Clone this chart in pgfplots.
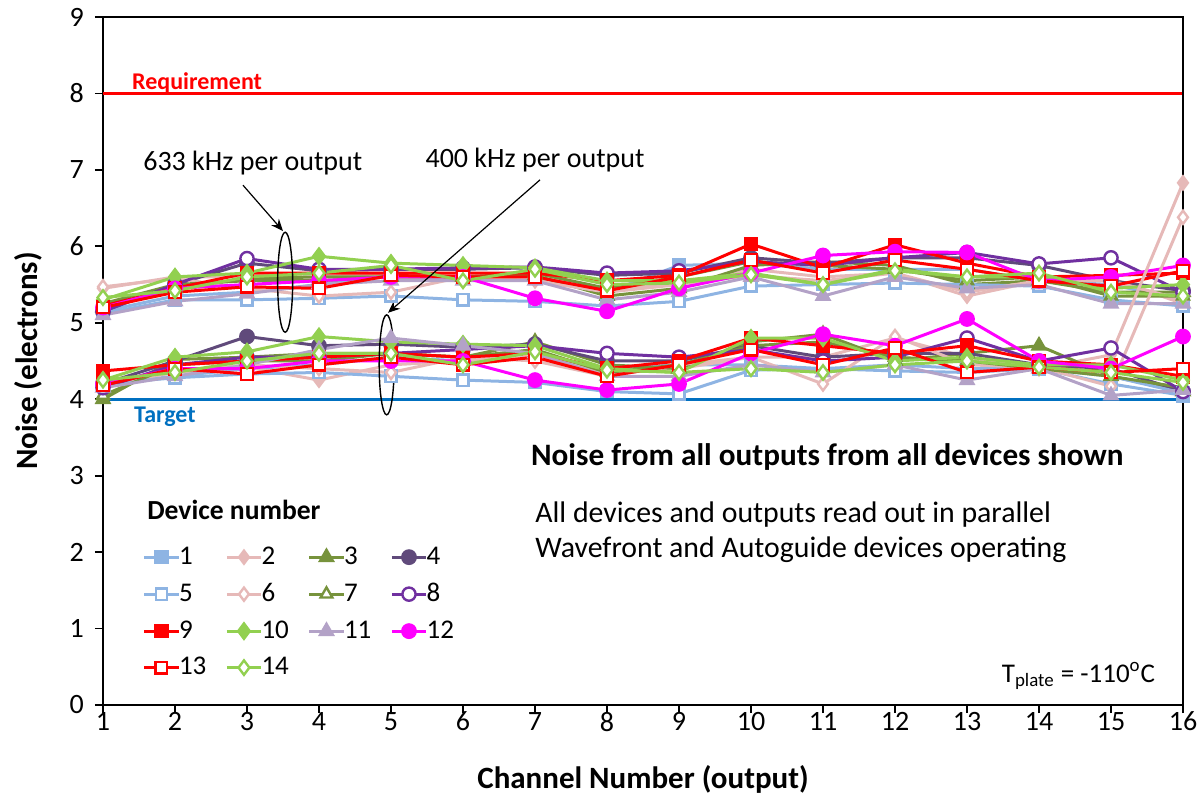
\documentclass[border=0pt]{standalone}
\usepackage{pgfplots}
\pgfplotsset{compat=1.18}
\usepackage{pgfplotstable}
\usepackage{fontspec}
\setmainfont{Carlito}
\usetikzlibrary{arrows.meta}

\definecolor{c1}{HTML}{8EB4E3}
\definecolor{c2}{HTML}{E6B9B8}
\definecolor{c3}{HTML}{77933C}
\definecolor{c4}{HTML}{604A7B}
\definecolor{c8}{HTML}{7030A0}
\definecolor{c9}{HTML}{FF0000}
\definecolor{c10}{HTML}{92D050}
\definecolor{c11}{HTML}{B3A2C7}
\definecolor{c12}{HTML}{FF00FF}
\definecolor{tgt}{HTML}{0070C0}

% 633 kHz per output (upper group)
\pgfplotstableread{
x d1 d2 d3 d4 d5 d6 d7 d8 d9 d10 d11 d12 d13 d14
1 5.15 5.45 5.20 5.15 5.12 5.47 5.25 5.15 5.22 5.30 5.10 5.20 5.20 5.33
2 5.35 5.60 5.45 5.50 5.30 5.58 5.50 5.50 5.45 5.60 5.28 5.45 5.40 5.42
3 5.40 5.60 5.58 5.78 5.30 5.45 5.55 5.84 5.65 5.65 5.38 5.50 5.47 5.60
4 5.50 5.60 5.60 5.68 5.32 5.35 5.55 5.70 5.65 5.87 5.50 5.55 5.45 5.65
5 5.62 5.65 5.60 5.70 5.35 5.40 5.60 5.70 5.65 5.78 5.55 5.60 5.62 5.75
6 5.60 5.60 5.60 5.70 5.30 5.60 5.60 5.72 5.65 5.75 5.55 5.60 5.60 5.55
7 5.60 5.60 5.62 5.72 5.28 5.55 5.65 5.73 5.65 5.72 5.55 5.32 5.60 5.70
8 5.40 5.45 5.35 5.62 5.22 5.40 5.45 5.65 5.55 5.55 5.30 5.15 5.42 5.50
9 5.75 5.50 5.45 5.65 5.28 5.50 5.60 5.68 5.62 5.55 5.40 5.45 5.60 5.52
10 5.78 5.70 5.75 5.85 5.48 5.62 5.80 5.80 6.03 5.65 5.60 5.65 5.82 5.63
11 5.70 5.60 5.80 5.78 5.50 5.55 5.75 5.75 5.72 5.50 5.35 5.88 5.65 5.50
12 5.70 5.65 5.75 5.85 5.52 5.65 5.70 5.85 6.02 5.70 5.60 5.93 5.82 5.68
13 5.70 5.35 5.50 5.85 5.50 5.40 5.55 5.92 5.78 5.60 5.45 5.92 5.70 5.60
14 5.55 5.55 5.55 5.75 5.48 5.55 5.60 5.77 5.60 5.60 5.50 5.55 5.55 5.65
15 5.50 5.58 5.40 5.55 5.30 5.55 5.35 5.85 5.62 5.45 5.25 5.60 5.48 5.40
16 5.30 5.25 5.40 5.42 5.22 5.30 5.35 5.40 5.65 5.50 5.25 5.75 5.68 5.35
}\uppertab

% 400 kHz per output (lower group)
\pgfplotstableread{
x d1 d2 d3 d4 d5 d6 d7 d8 d9 d10 d11 d12 d13 d14
1 4.20 4.20 4.00 4.20 4.20 4.20 4.05 4.15 4.37 4.25 4.15 4.20 4.18 4.25
2 4.30 4.35 4.52 4.50 4.28 4.35 4.45 4.45 4.45 4.55 4.30 4.40 4.40 4.35
3 4.40 4.42 4.55 4.82 4.33 4.45 4.50 4.55 4.50 4.62 4.45 4.40 4.33 4.50
4 4.45 4.25 4.60 4.70 4.35 4.40 4.50 4.55 4.55 4.82 4.65 4.50 4.45 4.60
5 4.55 4.45 4.60 4.72 4.30 4.35 4.60 4.60 4.60 4.75 4.80 4.50 4.55 4.60
6 4.50 4.50 4.55 4.68 4.25 4.55 4.55 4.65 4.55 4.72 4.70 4.50 4.45 4.45
7 4.55 4.55 4.75 4.72 4.22 4.50 4.65 4.70 4.60 4.70 4.60 4.25 4.55 4.62
8 4.40 4.35 4.45 4.50 4.10 4.30 4.35 4.60 4.40 4.40 4.30 4.12 4.30 4.38
9 4.45 4.40 4.40 4.50 4.07 4.45 4.45 4.55 4.50 4.35 4.30 4.20 4.45 4.35
10 4.45 4.55 4.75 4.70 4.38 4.55 4.70 4.65 4.80 4.80 4.45 4.60 4.65 4.40
11 4.40 4.55 4.85 4.55 4.40 4.20 4.75 4.50 4.70 4.80 4.35 4.85 4.45 4.35
12 4.45 4.80 4.50 4.60 4.37 4.82 4.55 4.55 4.60 4.50 4.45 4.70 4.67 4.45
13 4.40 4.55 4.60 4.60 4.35 4.45 4.50 4.80 4.70 4.55 4.25 5.05 4.35 4.50
14 4.40 4.40 4.70 4.45 4.40 4.42 4.40 4.50 4.50 4.45 4.40 4.50 4.42 4.42
15 4.20 4.58 4.30 4.40 4.30 4.17 4.30 4.67 4.45 4.45 4.05 4.40 4.35 4.35
16 4.05 6.83 4.10 4.10 4.08 6.38 4.15 4.10 4.30 4.25 4.12 4.82 4.40 4.22
}\lowertab

\pgfplotsset{
  dev/.style={line width=1.5pt},
  d1/.style={dev, color=c1, mark=square*, mark size=2.8pt, mark options={solid}},
  d2/.style={dev, color=c2, mark=diamond*, mark size=3pt, mark options={solid}},
  d3/.style={dev, color=c3, mark=triangle*, mark size=3.4pt, mark options={solid}},
  d4/.style={dev, color=c4, mark=*, mark size=3.2pt, mark options={solid}},
  d5/.style={dev, color=c1, mark=square*, mark size=2.8pt, mark options={solid, fill=white, line width=1.2pt}},
  d6/.style={dev, color=c2, mark=diamond*, mark size=3.3pt, mark options={solid, fill=white, line width=1.2pt}},
  d7/.style={dev, color=c3, mark=triangle*, mark size=3.4pt, mark options={solid, fill=white, line width=1.2pt}},
  d8/.style={dev, color=c8, mark=*, mark size=3.3pt, mark options={solid, fill=white, line width=1.2pt}},
  d9/.style={dev, color=c9, mark=square*, mark size=2.9pt, mark options={solid}},
  d10/.style={dev, color=c10, mark=diamond*, mark size=3.6pt, mark options={solid}},
  d11/.style={dev, color=c11, mark=triangle*, mark size=3.4pt, mark options={solid}},
  d12/.style={dev, color=c12, mark=*, mark size=3.2pt, mark options={solid}},
  d13/.style={dev, color=c9, mark=square*, mark size=2.9pt, mark options={solid, fill=white, line width=1.2pt}},
  d14/.style={dev, color=c10, mark=diamond*, mark size=3.6pt, mark options={solid, fill=white, line width=1.2pt}},
}

\begin{document}
\begin{tikzpicture}
\useasboundingbox (-51.5pt,-46pt) rectangle (548pt,352.5pt);
\begin{axis}[
  at={(0,0)}, anchor=south west,
  scale only axis, width=540pt, height=344pt,
  xmin=1, xmax=16, ymin=0, ymax=9,
  xtick={1,...,16}, ytick={0,...,9},
  tick align=outside, tick pos=left,
  major tick length=4pt,
  axis line style={line width=0.9pt, black},
  every tick/.style={line width=0.9pt, black},
  ticklabel style={font=\fontsize{14}{16}\selectfont},
  xticklabel style={yshift=4pt},
  yticklabel style={xshift=-2pt},
  /pgf/number format/assume math mode=true,
  xlabel={Channel Number (output)},
  ylabel={Noise (electrons)},
  label style={font=\bfseries\fontsize{15.5}{18}\selectfont},
  xlabel style={at={(axis description cs:0.5,-0.108)}, anchor=center},
  ylabel style={at={(axis description cs:-0.0694,0.5)}, anchor=center},
  clip=false,
  legend columns=4,
  legend cell align=left,
  legend style={at={(rel axis cs:0.031,0.242)}, anchor=north west, draw=none, fill=none,
    font=\fontsize{13.5}{15}\selectfont, row sep=4pt,
    /tikz/every odd column/.append style={column sep=-2.5pt},
    /tikz/every even column/.append style={column sep=7.5pt}},
]
% Requirement and target
\addplot[c9, line width=1.5pt, forget plot] coordinates {(1,8) (16,8)};
\addplot[tgt, line width=1.5pt, forget plot] coordinates {(1,4) (16,4)};

% upper group (633 kHz)
\addplot[d1] table[x=x,y=d1]{\uppertab};
\addplot[d2] table[x=x,y=d2]{\uppertab};
\addplot[d3] table[x=x,y=d3]{\uppertab};
\addplot[d4] table[x=x,y=d4]{\uppertab};
\addplot[d5] table[x=x,y=d5]{\uppertab};
\addplot[d6] table[x=x,y=d6]{\uppertab};
\addplot[d7] table[x=x,y=d7]{\uppertab};
\addplot[d8] table[x=x,y=d8]{\uppertab};
\addplot[d9] table[x=x,y=d9]{\uppertab};
\addplot[d10] table[x=x,y=d10]{\uppertab};
\addplot[d11] table[x=x,y=d11]{\uppertab};
\addplot[d12] table[x=x,y=d12]{\uppertab};
\addplot[d13] table[x=x,y=d13]{\uppertab};
\addplot[d14] table[x=x,y=d14]{\uppertab};
\legend{1,2,3,4,5,6,7,8,9,10,11,12,13,14}

% lower group (400 kHz)
\addplot[d1, forget plot] table[x=x,y=d1]{\lowertab};
\addplot[d2, forget plot] table[x=x,y=d2]{\lowertab};
\addplot[d3, forget plot] table[x=x,y=d3]{\lowertab};
\addplot[d4, forget plot] table[x=x,y=d4]{\lowertab};
\addplot[d5, forget plot] table[x=x,y=d5]{\lowertab};
\addplot[d6, forget plot] table[x=x,y=d6]{\lowertab};
\addplot[d7, forget plot] table[x=x,y=d7]{\lowertab};
\addplot[d8, forget plot] table[x=x,y=d8]{\lowertab};
\addplot[d9, forget plot] table[x=x,y=d9]{\lowertab};
\addplot[d10, forget plot] table[x=x,y=d10]{\lowertab};
\addplot[d11, forget plot] table[x=x,y=d11]{\lowertab};
\addplot[d12, forget plot] table[x=x,y=d12]{\lowertab};
\addplot[d13, forget plot] table[x=x,y=d13]{\lowertab};
\addplot[d14, forget plot] table[x=x,y=d14]{\lowertab};

% frame on the right
\draw[line width=0.9pt] (rel axis cs:1,0) -- (rel axis cs:1,1);

% labels
\node[anchor=base west, text=c9, font=\bfseries\fontsize{12}{14}\selectfont, inner sep=0pt] at (axis cs:1.40,8.05) {Requirement};
\node[anchor=north west, text=tgt, font=\bfseries\fontsize{12}{14}\selectfont, inner sep=1pt] at (axis cs:1.40,3.93) {Target};

\node[font=\fontsize{14}{16}\selectfont] at (axis cs:3.08,7.09) {633 kHz per output};
\node[font=\fontsize{14}{16}\selectfont] at (axis cs:7.0,7.13) {400 kHz per output};
\draw[-{Stealth[length=6pt,width=5pt]}, line width=0.6pt] (axis cs:2.944,6.80) -- (axis cs:3.5,6.20);
\draw[-{Stealth[length=6pt,width=5pt]}, line width=0.6pt] (axis cs:7.07,6.87) -- (axis cs:4.958,5.13);
\draw[line width=0.7pt] (axis cs:3.53,5.53) ellipse [x radius=3.75pt, y radius=25pt];
\draw[line width=0.7pt] (axis cs:4.94,4.45) ellipse [x radius=3.75pt, y radius=25pt];

\node[font=\bfseries\fontsize{15.6}{18}\selectfont] at (axis cs:11.06,3.24) {Noise from all outputs from all devices shown};
\node[anchor=west, inner sep=0pt, font=\fontsize{14.9}{17}\selectfont] at (axis cs:7.0,2.49) {All devices and outputs read out in parallel};
\node[anchor=west, inner sep=0pt, font=\fontsize{14.9}{17}\selectfont] at (axis cs:7.0,2.03) {Wavefront and Autoguide devices operating};
\node[anchor=east, font=\fontsize{13.5}{15}\selectfont] at (axis cs:15.71,0.38) {T\textsubscript{plate} = -110\textsuperscript{o}C};
\node[anchor=west, inner sep=0pt, font=\bfseries\fontsize{13.8}{16}\selectfont] at (axis cs:1.61,2.55) {Device number};
\end{axis}
\end{tikzpicture}
\end{document}
